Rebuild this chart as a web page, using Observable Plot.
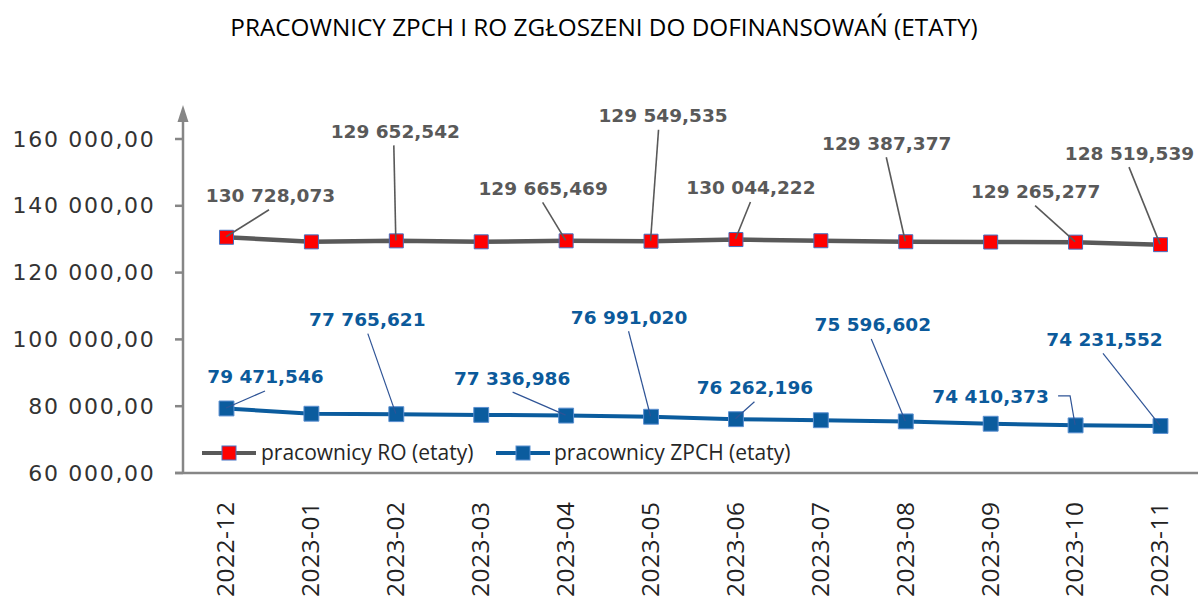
<!DOCTYPE html>
<html>
<head>
<meta charset="utf-8">
<script src="https://cdn.jsdelivr.net/npm/d3@7"></script>
<script src="https://cdn.jsdelivr.net/npm/@observablehq/plot@0.6"></script>
<style>
  html, body { margin: 0; padding: 0; background: #fff; }
</style>
</head>
<body>
<div id="chart"></div>
<script>
// ---------- data ----------
const title = "PRACOWNICY ZPCH I RO ZGŁOSZENI DO DOFINANSOWAŃ (ETATY)";
const months = ["2022-12","2023-01","2023-02","2023-03","2023-04","2023-05","2023-06","2023-07","2023-08","2023-09","2023-10","2023-11"];
const roValues   = [130728.073, 129350, 129652.542, 129365, 129665.469, 129549.535, 130044.222, 129690, 129387.377, 129300, 129265.277, 128519.539];
const zpchValues = [79471.546, 77900, 77765.621, 77550, 77336.986, 76991.020, 76262.196, 75950, 75596.602, 74900, 74410.373, 74231.552];
const roLabelled   = [0, 2, 4, 5, 6, 8, 10, 11];
const zpchLabelled = [0, 2, 4, 5, 6, 8, 10, 11];
const yTicks = [60000, 80000, 100000, 120000, 140000, 160000];
const seriesNames = ["pracownicy RO (etaty)", "pracownicy ZPCH (etaty)"];

// ---------- layout (pixel offsets of data labels from their points) ----------
const roLabelOffsets = {0:[44,-41,-1], 2:[-1,-109,-1], 4:[-23,-52,0], 5:[12,-125,-4], 6:[15,-51,0], 8:[-19,-98,0], 10:[-40,-50,0], 11:[-31,-91,0]};
const zpchLabelOffsets = {0:[39,-31,0], 2:[-29,-94,1], 4:[-54,-37,1], 5:[-22,-99,0], 6:[19,-31,0], 8:[-33,-96,-1], 10:[-85,-28,"elbow"], 11:[-56,-86,-1]};

const GRAY = "#595959", RED = "#ff0000", BLUE = "#0b5c9e", BLUE_LBL = "#0b5a9b", AXIS = "#868686";
const YLAB = "#333333", XLAB = "#222222";

const loc = d3.formatLocale({decimal: ",", thousands: " ", grouping: [3], currency: ["", ""]});
const fmtTick = loc.format(",.2f");
const fmtVal = loc.format(",.3f");

const ro = months.map((m, i) => ({month: m, value: roValues[i]}));
const zp = months.map((m, i) => ({month: m, value: zpchValues[i]}));

const W = 1198, H = 602, ML = 183, MT = 100, MB = 129, MR = 0;

function labelMarks(data, labelled, offsets, fill) {
  return labelled.map(i => {
    const [dx, dy] = offsets[i];
    return Plot.text([data[i]], {
      x: "month", y: "value", text: d => fmtVal(d.value),
      dx, dy, fill, fontFamily: "DejaVu Sans", fontWeight: "bold", fontSize: 18.5,
      textAnchor: "middle", lineAnchor: "middle"
    });
  });
}

function extras(index, scales, values, dims) {
  const {width, height, marginLeft, marginBottom} = dims;
  const g = d3.create("svg:g").attr("text-anchor", "start");
  const x0 = marginLeft, yb = height - marginBottom;
  // y axis with arrow
  g.append("line").attr("x1", x0).attr("x2", x0).attr("y1", yb).attr("y2", 118)
    .attr("stroke", AXIS).attr("stroke-width", 2.5);
  g.append("path").attr("d", `M${x0-5.5},122L${x0},105L${x0+5.5},122Z`).attr("fill", AXIS);
  // y ticks
  for (const t of yTicks) {
    const y = scales.y(t);
    g.append("line").attr("x1", x0 - 8).attr("x2", x0).attr("y1", y).attr("y2", y)
      .attr("stroke", AXIS).attr("stroke-width", 2.5);
  }
  // x axis line
  g.append("line").attr("x1", x0 - 8).attr("x2", width).attr("y1", yb).attr("y2", yb)
    .attr("stroke", AXIS).attr("stroke-width", 2.5);
  // leader lines
  const leaders = (data, labelled, offsets, stroke, sw) => {
    for (const i of labelled) {
      const [dx, dy, ax] = offsets[i];
      const px = scales.x(data[i].month), py = scales.y(data[i].value);
      const lx = px + dx, ly = py + dy;
      let pts;
      if (ax === "elbow") pts = [[lx + 68, ly - 1], [lx + 80, ly - 1], [px, py]];
      else pts = [[lx + ax, ly + 14], [px, py]];
      g.append("path").attr("d", d3.line()(pts)).attr("fill", "none")
        .attr("stroke", stroke).attr("stroke-width", sw);
    }
  };
  leaders(ro, roLabelled, roLabelOffsets, GRAY, 1.6);
  leaders(zp, zpchLabelled, zpchLabelOffsets, "#2f5496", 1.2);
  // legend
  const ly = 453;
  const items = [
    {x: 202, line: GRAY, fill: RED, edge: "#4472c4", name: seriesNames[0], tx: 261},
    {x: 496, line: BLUE, fill: BLUE, edge: "#5b8fd0", name: seriesNames[1], tx: 554}
  ];
  for (const it of items) {
    g.append("line").attr("x1", it.x).attr("x2", it.x + 54).attr("y1", ly).attr("y2", ly)
      .attr("stroke", it.line).attr("stroke-width", 4);
    g.append("rect").attr("x", it.x + 20).attr("y", ly - 7).attr("width", 14).attr("height", 14)
      .attr("fill", it.fill).attr("stroke", it.edge).attr("stroke-width", 1);
    g.append("text").attr("x", it.tx).attr("y", ly).attr("dy", "0.35em")
      .attr("text-anchor", "start")
      .attr("font-family", "Open Sans").attr("font-size", 21).attr("fill", "#262626")
      .text(it.name);
  }
  return g.node();
}

const plot = Plot.plot({
  width: W, height: H,
  marginLeft: ML, marginTop: MT, marginBottom: MB, marginRight: MR,
  x: {type: "point", domain: months, range: [226, 1160], padding: 0, round: false, axis: null},
  y: {type: "linear", domain: [60000, 160000], range: [H - MB, 139], axis: null},
  marks: [
    Plot.text([title], {frameAnchor: "top", lineAnchor: "middle", dx: -87, dy: 28 - MT,
      fontFamily: "Open Sans", fontSize: 24.3, fill: "#000"}),
    Plot.text(yTicks, {y: d => d, text: d => fmtTick(d), frameAnchor: "left", lineAnchor: "middle", dx: -28, textAnchor: "end",
      fontFamily: "DejaVu Sans", fontSize: 22, fill: YLAB, ariaLabel: "ylab"}),
    Plot.text(months, {x: d => d, frameAnchor: "bottom", rotate: -90, textAnchor: "end", lineAnchor: "middle", dy: 28,
      fontFamily: "Open Sans", fontSize: 24.5, fill: XLAB, ariaLabel: "xlab"}),
    Plot.line(ro, {x: "month", y: "value", stroke: GRAY, strokeWidth: 4.5}),
    Plot.line(zp, {x: "month", y: "value", stroke: BLUE, strokeWidth: 4}),
    Plot.dot(ro, {x: "month", y: "value", symbol: "square", r: 7.9, fill: RED, stroke: "#4472c4", strokeWidth: 1}),
    Plot.dot(zp, {x: "month", y: "value", symbol: "square", r: 8.4, fill: BLUE, stroke: "#5b8fd0", strokeWidth: 1}),
    extras,
    ...labelMarks(ro, roLabelled, roLabelOffsets, GRAY),
    ...labelMarks(zp, zpchLabelled, zpchLabelOffsets, BLUE_LBL)
  ]
});
// letter spacing for axis tick labels
plot.querySelectorAll(`g[fill="${YLAB}"] text`).forEach(t => t.setAttribute("letter-spacing", "1.7"));
plot.querySelectorAll(`g[fill="${XLAB}"] text`).forEach(t => t.setAttribute("letter-spacing", "0.5"));
document.getElementById("chart").appendChild(plot);
</script>
</body>
</html>
